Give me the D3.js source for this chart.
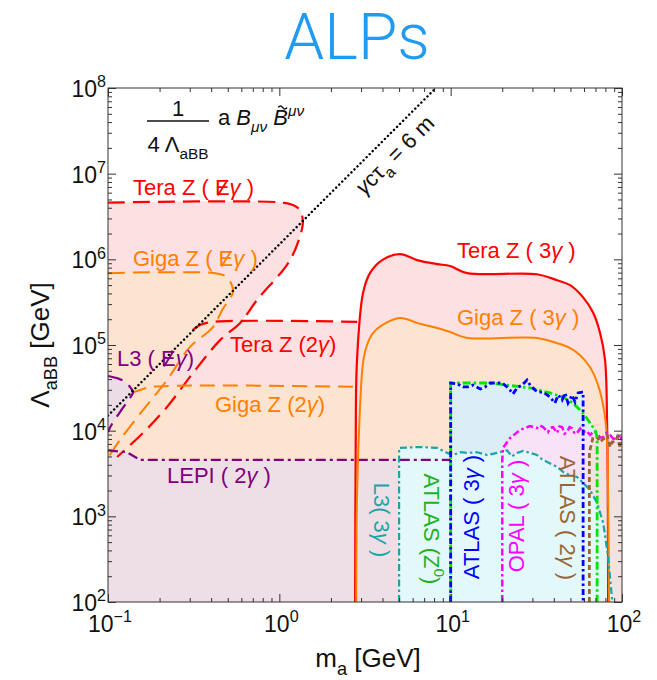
<!DOCTYPE html>
<meta charset="utf-8">
<head>
  <title>ALPs</title>
</head>
<style>
  html, body {
    margin: 0;
    background: #fff;
    overflow: hidden;
  }
  svg text {
    font-family: "Liberation Sans", Arial, Helvetica, sans-serif;
  }
</style>
<body>
<svg id="chart" width="657" height="680"></svg>
<script src="https://d3js.org/d3.v7.min.js"></script>
<script>
// all points are [m_a (GeV), Lambda_aBB (GeV)]
var xDecades = [-1, 0, 1, 2];
var yDecades = [2, 3, 4, 5, 6, 7, 8];

var teraMissing = [[0.1,4.6e6],[1.05,4.6e6],[1.2,4.3e6],[1.32,3.77e6],[1.37,2.88e6],[1.36,2.32e6],
  [1.155,9.8e5],[0.741,3.35e5],[0.59,1.81e5],[0.451,1.14e5],[0.313,4.7e4],[0.221,1.89e4],
  [0.16,9.4e3],[0.113,4.93e3]];
var gigaMissing = [[0.1,6.9e5],[0.42,6.9e5],[0.482,6.4e5],[0.522,5.3e5],[0.537,4.16e5],[0.464,2.56e5],
  [0.41,1.62e5],[0.301,9.5e4],[0.221,3.9e4],[0.16,1.74e4],[0.1175,7.8e3],[0.1,4.8e3]];
var tera2g = [[0.313,1.5e5],[0.344,1.71e5],[0.41,1.86e5],[2.85,1.86e5]];
var giga2g = [[0.138,2.76e4],[0.16,3.06e4],[0.176,3.24e4],[2.85,3.25e4]];
var l3Missing = [[0.1,4.35e4],[0.115,4.05e4],[0.126,3.7e4],[0.135,3.2e4],[0.14,2.82e4],[0.13,2.2e4],
  [0.1175,1.65e4],[0.103,1.1e4],[0.1,9.6e3]];
var lep2g = [[0.1,5.9e3],[0.129,5.6e3],[0.154,4.55e3],[10,4.55e3]];
var decayLength = [[0.1,1.5e4],[8.2,1e8]];

var tera3g = [[2.77,1e2],[2.79,5.9e3],[2.84,6.7e4],[3.08,4.05e5],[3.38,6.9e5],[3.98,9.8e5],[5.07,1.15e6],
  [6.37,9.8e5],[8.33,8.8e5],[9.92,8.35e5],[12.5,6.9e5],[31.9,6.7e5],[41.8,5.7e5],[49.8,5.0e5],
  [59.3,3.6e5],[67.8,2.4e5],[74.5,1.38e5],[79.6,6.7e4],[81.8,1.33e4],[83,1e2]];
var giga3g = [[2.81,1e2],[2.84,1.55e3],[2.92,1.02e4],[3.08,6.2e4],[3.25,1.0e5],[3.52,1.38e5],[3.98,1.71e5],
  [5.07,2.07e5],[6.37,1.81e5],[8.33,1.58e5],[9.92,1.42e5],[12.5,1.21e5],[31.9,1.21e5],[41.8,1.05e5],
  [49.8,9.2e4],[56.9,7.6e4],[65.1,5.5e4],[72.5,3.4e4],[78.5,1.74e4],[81.8,7.8e3],[83,1.55e3],[84.1,1e2]];

var l3_3g = [[5,1e2],[5,6.3e3],[6.62,6.45e3],[8.33,6.3e3],[9.53,5.5e3],[10.3,5.2e3],[11.4,5.6e3],
  [12.5,5.5e3],[14.3,5.6e3],[16.3,5.2e3],[18.7,5.5e3],[21.3,5.9e3],[22.8,5.0e3],[24.4,5.5e3],
  [26.5,5.8e3],[29.1,5.5e3],[31.9,5.2e3],[33.2,4.8e3],[36.6,4.3e3],[41.8,3.77e3],[45.3,3.3e3],
  [50,3.0e3],[54.7,2.88e3],[59.3,2.45e3],[65.1,2.03e3],[71.6,1.43e3],[77.6,8.4e2],[83,3.35e2],[87.6,1.05e2]];
var opal3g = [[20,1e2],[20,4.55e3],[20.2,6.3e3],[22.2,8.2e3],[25.4,1.02e4],[29.1,1.13e4],[31.9,1.07e4],
  [33.2,1.15e4],[34.6,1.1e4],[37,9.6e3],[38.2,1.08e4],[39.6,1.1e4],[41.8,9.4e3],[43.2,1.12e4],
  [44.7,1.1e4],[46.2,9.2e3],[47.8,9.6e3],[49.4,1.1e4],[51.1,1.07e4],[52.9,9.2e3],[54.7,9.4e3],
  [57,1.06e4],[59.3,9.6e3],[62,1.0e4],[65.1,8.9e3],[68.2,9.8e3],[71.6,9.4e3],[74.5,8.3e3],
  [77.6,8.4e3],[81.5,9.5e3],[85.3,8.9e3],[89,8.0e3],[93.6,8.2e3],[97,9.0e3],[100,7.8e3]];
var atlas2g = [[64.5,1e2],[64.5,5.6e3],[67.8,8.4e3],[71.6,8.4e3],[74.5,7.4e3],[76.6,7.8e3],[79.6,8.2e3],
  [81.8,8.9e3],[85.3,6.45e3],[87.6,7.4e3],[91.2,7.4e3],[93.6,8.4e3],[97.5,6.45e3],[100,7.4e3]];
var atlasZ0 = [[10,1e2],[10,3.6e4],[17,3.6e4],[21.3,3.4e4],[29.1,3.15e4],[38,2.76e4],[45.3,2.47e4],
  [51.8,2.1e4],[59.3,1.6e4],[65.1,1.23e4],[69.6,1.02e4],[71.6,8.4e3],[71.6,1e2]];
var atlas3g = [[10,1e2],[10,3.6e4],[11,3.5e4],[11.8,3.24e4],[12.6,3.24e4],[13.5,3.4e4],[14.9,3.06e4],
  [15.9,3.24e4],[17,3.6e4],[18.2,3.6e4],[20,3.6e4],[21.3,3.24e4],[22.2,2.98e4],[23.1,2.68e4],
  [24.4,3.15e4],[26.1,3.4e4],[27.9,3.9e4],[29.1,3.4e4],[31.1,2.98e4],[32.4,2.82e4],[34.6,2.82e4],
  [38,2.47e4],[40.6,2.1e4],[42.4,2.6e4],[44.7,2.28e4],[46.5,2.76e4],[48.4,2.1e4],[51.1,2.6e4],
  [53.2,2.16e4],[55.4,2.76e4],[58.5,2.82e4],[59.3,2.82e4],[59.3,1e2]];

var red = "#ff0000", orange = "#ff8000", purple = "#800080", teal = "#1aa6a6",
    magenta = "#ff00ff", brown = "#996633", green = "#00e600", blue = "#0000ff";

var svg = d3.select("#chart");
var x = d3.scaleLog().domain([0.1, 100]).range([108, 622]);
var y = d3.scaleLog().domain([1e2, 1e8]).range([602, 88]);

var lin = d3.line().x(function(d) { return x(d[0]); }).y(function(d) { return y(d[1]); });
var smooth = d3.line().x(function(d) { return x(d[0]); }).y(function(d) { return y(d[1]); })
  .curve(d3.curveCatmullRom.alpha(0.5));

function closed(gen, pts, extra) {
  return gen(pts) + extra.map(function(p) { return "L" + x(p[0]) + "," + y(p[1]); }).join("") + "Z";
}

svg.append("clipPath").attr("id", "plot")
  .append("rect").attr("x", 108).attr("y", 88).attr("width", 514).attr("height", 514);

// shaded regions, later ones drawn on top
var regions = [
  [teraMissing, smooth, [[0.1,4.93e3]], "#fde0e2"],
  [tera2g, smooth, [[2.85,1e2],[0.1,1e2],[0.1,1.5e5]], "#fde0e2"],
  [tera3g, smooth, [], "#fde0e2"],
  [gigaMissing, smooth, [], "#fde4d0"],
  [giga2g, smooth, [[2.85,1e2],[0.1,1e2],[0.1,2.76e4]], "#fde4d0"],
  [giga3g, smooth, [], "#fde4d0"],
  [l3Missing, smooth, [], "#ebdce6"],
  [lep2g, lin, [[10,1e2],[0.1,1e2]], "#eddfe5"],
  [atlasZ0, lin, [], "#dbedf6"],
  [atlas3g, lin, [], "#dbedf6"],
  [opal3g, lin, [[100,1e2]], "#f8e2f8"],
  [atlas2g, lin, [[100,1e2]], "#f2e2e0"],
  [l3_3g, lin, [], "#e2f8fb"]
];

svg.append("g").attr("clip-path", "url(#plot)")
  .selectAll("path").data(regions).enter().append("path")
  .attr("d", function(r) { return closed(r[1], r[0], r[2]); })
  .attr("fill", function(r) { return r[3]; })
  .attr("stroke", "none");

var curves = [
  [teraMissing, smooth, red, 2.2, "17,8"],
  [gigaMissing, smooth, orange, 2, "17,8"],
  [tera2g, smooth, red, 2.2, "17,8"],
  [giga2g, smooth, orange, 2, "15,8"],
  [l3Missing, smooth, purple, 2.2, "15,8"],
  [lep2g, lin, purple, 2.2, "10,4,3,4"],
  [tera3g, smooth, red, 2.2, null],
  [giga3g, smooth, orange, 2, null],
  [l3_3g, lin, teal, 2.2, "7,3,2.5,3"],
  [opal3g, lin, magenta, 2.5, "7,3,2.5,3"],
  [atlas2g, lin, brown, 2.8, "5,3"],
  [atlasZ0, lin, green, 2.8, "8,3,2.5,3"],
  [atlas3g, lin, blue, 2.8, "6,3,2.5,3"]
];

var lineG = svg.append("g").attr("clip-path", "url(#plot)").attr("fill", "none");
lineG.selectAll("path").data(curves).enter().append("path")
  .attr("d", function(c) { return c[1](c[0]); })
  .attr("stroke", function(c) { return c[2]; })
  .attr("stroke-width", function(c) { return c[3]; })
  .attr("stroke-dasharray", function(c) { return c[4]; });

lineG.append("path")
  .attr("d", lin(decayLength))
  .attr("stroke", "#000")
  .attr("stroke-width", 2.4)
  .attr("stroke-linecap", "round")
  .attr("stroke-dasharray", "0.1,4.2");

// frame and ticks
var axesG = svg.append("g").attr("stroke", "#333");
axesG.append("rect").attr("x", 108).attr("y", 88).attr("width", 514).attr("height", 514)
  .attr("fill", "none").attr("stroke", "#333").attr("stroke-width", 1);

var xMajor = xDecades.map(function(e) { return Math.pow(10, e); });
var yMajor = yDecades.map(function(e) { return Math.pow(10, e); });
var xMinor = x.ticks().filter(function(v) { return xMajor.every(function(m) { return Math.abs(v / m - 1) > 1e-6; }); });
var yMinor = y.ticks().filter(function(v) { return yMajor.every(function(m) { return Math.abs(v / m - 1) > 1e-6; }); });

function ticks(axisFn, scale, vals, len, tr) {
  axesG.append("g").attr("transform", tr)
    .call(axisFn(scale).tickValues(vals).tickSize(-len).tickFormat(""))
    .call(function(g) { g.select(".domain").remove(); g.selectAll("line").attr("stroke", "#333"); });
}
ticks(d3.axisBottom, x, xMajor, 8, "translate(0,602)");
ticks(d3.axisBottom, x, xMinor, 4, "translate(0,602)");
ticks(d3.axisTop, x, xMajor, 8, "translate(0,88)");
ticks(d3.axisTop, x, xMinor, 4, "translate(0,88)");
ticks(d3.axisLeft, y, yMajor, 8, "translate(108,0)");
ticks(d3.axisLeft, y, yMinor, 4, "translate(108,0)");
ticks(d3.axisRight, y, yMajor, 8, "translate(622,0)");
ticks(d3.axisRight, y, yMinor, 4, "translate(622,0)");

// text with sub/superscripts, italics; parts marked slash get a stroke through them,
// parts marked tilde get a tilde drawn above
function rich(sel, parts, size) {
  var shift = 0, idx = 0, marks = [];
  parts.forEach(function(p) {
    var ts = sel.append("tspan").text(p.t);
    var target = p.sub ? size * 0.3 : p.sup ? -size * 0.42 : 0;
    var dy = target - shift;
    if (dy !== 0) ts.attr("dy", dy);
    shift = target;
    if (p.sub || p.sup) ts.attr("font-size", size * 0.7);
    if (p.it) ts.attr("font-style", "italic");
    if (p.slash) marks.push(["slash", idx]);
    if (p.tilde) marks.push(["tilde", idx]);
    idx += p.t.length;
  });
  var color = sel.attr("fill");
  marks.forEach(function(m) {
    var b = sel.node().getExtentOfChar(m[1]);
    if (m[0] == "slash") {
      svg.append("line")
        .attr("x1", b.x + b.width * 0.2).attr("y1", b.y + b.height * 0.82)
        .attr("x2", b.x + b.width * 0.85).attr("y2", b.y + b.height * 0.2)
        .attr("stroke", color).attr("stroke-width", size * 0.085);
    } else {
      var cx = b.x + b.width / 2 + 2, cy = b.y + 1.5, w = size * 0.2;
      svg.append("path")
        .attr("d", "M" + (cx - w) + "," + (cy + 1) + "q" + (w / 2) + ",-3 " + w + ",0t" + w + ",0")
        .attr("fill", "none").attr("stroke", color).attr("stroke-width", 1.3);
    }
  });
  return sel;
}

function label(xp, yp, parts, color, size, anchor, rot) {
  var t = svg.append("text")
    .attr("fill", color)
    .attr("font-size", size)
    .attr("text-anchor", anchor || "start");
  if (rot) {
    t.attr("transform", "translate(" + xp + "," + yp + ") rotate(" + rot + ")").attr("dy", "0.35em");
  } else {
    t.attr("x", xp).attr("y", yp);
  }
  return rich(t, parts, size);
}

// tick labels
xDecades.forEach(function(e) {
  label(x(Math.pow(10, e)) + 2, 632, [{t: "10"}, {t: String(e).replace("-", "\u2212"), sup: true}], "#111", 23, "middle");
});
yDecades.forEach(function(e) {
  label(106, y(Math.pow(10, e)) + 9, [{t: "10"}, {t: String(e), sup: true}], "#111", 23, "end");
});

// axis titles
label(368, 667, [{t: "m"}, {t: "a", sub: true}, {t: " [GeV]"}], "#111", 26, "middle");
label(49, 345, [{t: "\u039b"}, {t: "aBB", sub: true}, {t: " [GeV]"}], "#111", 26, "middle")
  .attr("x", null).attr("y", null)
  .attr("transform", "translate(49,345) rotate(-90)");

// title
svg.append("text")
  .attr("x", 357).attr("y", 59)
  .attr("text-anchor", "middle")
  .attr("font-size", 64)
  .attr("font-weight", 300)
  .style("font-family", "Roboto, 'Open Sans', 'Liberation Sans', sans-serif")
  .attr("fill", "#1f9cf2")
  .text("ALPs");

// effective operator
label(178, 116, [{t: "1"}], "#111", 22, "middle");
svg.append("line").attr("x1", 147).attr("x2", 209).attr("y1", 121).attr("y2", 121)
  .attr("stroke", "#111").attr("stroke-width", 1.3);
label(178, 152, [{t: "4 \u039b"}, {t: "aBB", sub: true}], "#111", 22, "middle");
label(218, 125, [{t: "a "}, {t: "B", it: true}, {t: "\u03bc\u03bd", sub: true, it: true},
  {t: " "}, {t: "B", it: true, tilde: true}, {t: "\u03bc\u03bd", sup: true, it: true}], "#111", 22, "start");

// decay length label along the dotted line
var p0 = [x(decayLength[0][0]), y(decayLength[0][1])];
var p1 = [x(decayLength[1][0]), y(decayLength[1][1])];
var ang = Math.atan2(p1[1] - p0[1], p1[0] - p0[0]);
var along = 387, off = 18;
var lx = p0[0] + along * Math.cos(ang) - off * Math.sin(ang);
var ly = p0[1] + along * Math.sin(ang) + off * Math.cos(ang);
label(lx, ly, [{t: "\u03b3", it: true}, {t: "c\u03c4"}, {t: "a", sub: true}, {t: " = 6 m"}], "#111", 22,
  "middle", ang * 180 / Math.PI);

// region labels
var gam = {t: "\u03b3", it: true};
label(133, 195, [{t: "Tera Z ( "}, {t: "E", slash: true}, gam, {t: " )"}], red, 22);
label(133, 266, [{t: "Giga Z ( "}, {t: "E", slash: true}, gam, {t: " )"}], orange, 22);
label(117, 366, [{t: "L3 ( "}, {t: "E", slash: true}, gam, {t: ")"}], purple, 22);
label(230, 352, [{t: "Tera Z (2"}, gam, {t: ")"}], red, 22);
label(215, 412, [{t: "Giga Z (2"}, gam, {t: ")"}], orange, 22);
label(167, 483, [{t: "LEPI ( 2"}, gam, {t: " )"}], purple, 22);
label(457, 258, [{t: "Tera Z ( 3"}, gam, {t: " )"}], red, 22);
label(457, 325, [{t: "Giga Z ( 3"}, gam, {t: " )"}], orange, 22);

label(382, 520, [{t: "L3( 3"}, gam, {t: " )"}], teal, 22, "middle", 90);
label(432, 529, [{t: "ATLAS (Z"}, {t: "0", sup: true}, {t: ")"}], "#22b022", 22, "middle", 90);
label(471, 517, [{t: "ATLAS ( 3"}, gam, {t: " )"}], blue, 22, "middle", -90);
label(516, 516, [{t: "OPAL ( 3"}, gam, {t: " )"}], magenta, 22, "middle", -90);
label(568, 518, [{t: "ATLAS ( 2"}, gam, {t: " )"}], brown, 22, "middle", 90);
</script>
</body>
